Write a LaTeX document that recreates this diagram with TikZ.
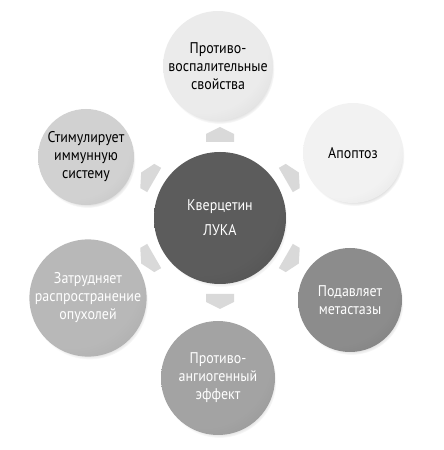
\documentclass[tikz,border=0pt]{standalone}
\usepackage{fontspec}
\setmainfont{PT Sans}[FakeStretch=0.9]
\usetikzlibrary{shadows,calc}
\pgfdeclareradialshading[btnA,btnB]{btn}{\pgfpoint{-12bp}{14bp}}{%
  color(0bp)=(btnA); color(30bp)=(btnA); color(52bp)=(btnB); color(75bp)=(btnB!80!black)}
\tikzset{
  bubble/.style n args={4}{circle, minimum size=#1, inner sep=0pt,
    /utils/exec={\colorlet{btnA}{#2}\colorlet{btnB}{#3}},
    shading=btn, text=#4, align=center,
    font=\fontsize{15.5}{18}\selectfont,
    circular drop shadow={shadow xshift=1.5pt, shadow yshift=-3pt, shadow scale=1.0, opacity=0.45}},
  arrowbit/.style={fill=black!15},
}
\newcommand{\arrowbit}[2]{%
  \fill[arrowbit, shift={($(#1)+(#2:83)$)}, rotate=#2]
    (-7,-14) -- (1,-14) -- (8,0) -- (1,14) -- (-7,14) -- cycle;}
\begin{document}
\begin{tikzpicture}[x=1pt,y=1pt]
\useasboundingbox (0,0) rectangle (444,450);
\node[bubble={132pt}{black!64}{black!72}{white}] (c) at (220,232) {Кверцетин\\[7pt]ЛУКА};
\foreach \a in {90,30,330,270,210,150} {\arrowbit{c}{\a}}
\node[bubble={110pt}{black!8}{black!20}{black}] (top) at (218,384) {Противо-\\воспалительные\\свойства};
\node[bubble={100pt}{black!5}{black!16}{black}] (apo) at (353,297) {Апоптоз};
\node[bubble={104pt}{black!45}{black!56}{white}] (met) at (350,150) {Подавляет\\метастазы};
\node[bubble={114pt}{black!36}{black!46}{white}] (ang) at (218,72) {Противо-\\ангиогенный\\эффект};
\node[bubble={112pt}{black!28}{black!38}{white}] (zat) at (88,152) {Затрудняет\\распространение\\опухолей};
\node[bubble={96pt}{black!18}{black!29}{black}] (stim) at (86,293) {Стимулирует\\иммунную\\систему};
\end{tikzpicture}
\end{document}
